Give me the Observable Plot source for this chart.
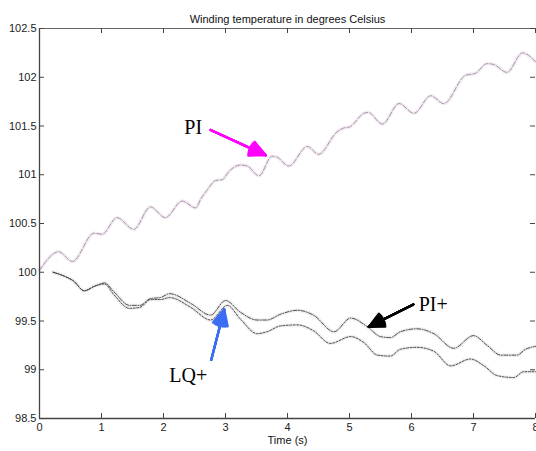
<!DOCTYPE html>
<html><head><meta charset="utf-8">
<script src="https://cdn.jsdelivr.net/npm/d3@7"></script>
<script src="https://cdn.jsdelivr.net/npm/@observablehq/plot@0.6"></script>
<style>body{margin:0;background:#fff}</style>
</head><body><div id="chart"></div>
<script>
const title = "Winding temperature in degrees Celsius";
const xLabel = "Time (s)";
const xDomain = [0, 8];
const yDomain = [98.5, 102.5];
const xTicks = [0, 1, 2, 3, 4, 5, 6, 7, 8];
const yTicks = [98.5, 99, 99.5, 100, 100.5, 101, 101.5, 102, 102.5];

// PI series
const piTime = [0.00,0.31,0.53,0.88,1.01,1.25,1.52,1.79,2.03,2.30,2.52,2.60,2.70,2.84,2.95,3.05,3.24,3.35,3.54,3.75,3.83,4.02,4.32,4.50,4.80,4.91,5.00,5.23,5.30,5.53,5.80,6.04,6.31,6.52,6.87,7.03,7.22,7.33,7.54,7.79,8.00];
const piTemp = [100.02,100.21,100.11,100.40,100.39,100.56,100.44,100.67,100.56,100.73,100.66,100.75,100.84,100.94,100.95,101.03,101.10,101.09,100.99,101.19,101.18,101.09,101.29,101.21,101.44,101.48,101.49,101.63,101.64,101.52,101.73,101.63,101.81,101.73,102.02,102.04,102.14,102.13,102.05,102.25,102.16];

// PI+ series
const pipTime = [0.22,0.40,0.55,0.72,0.90,1.05,1.20,1.45,1.62,1.79,1.95,2.10,2.44,2.76,3.00,3.24,3.51,3.67,3.89,4.16,4.42,4.75,5.02,5.29,5.50,5.66,5.82,6.09,6.36,6.68,7.00,7.22,7.44,7.70,7.84,8.00];
const pipTemp = [100.00,99.96,99.91,99.81,99.86,99.89,99.80,99.66,99.66,99.73,99.74,99.78,99.68,99.56,99.71,99.59,99.51,99.51,99.57,99.61,99.56,99.39,99.53,99.44,99.34,99.33,99.39,99.42,99.37,99.22,99.35,99.25,99.15,99.15,99.21,99.24];

// LQ+ series
const lqTime = [0.22,0.40,0.55,0.72,0.90,1.05,1.20,1.45,1.62,1.79,1.95,2.10,2.44,2.76,3.03,3.24,3.51,3.67,3.89,4.16,4.42,4.69,5.02,5.23,5.45,5.66,5.82,6.09,6.36,6.63,6.95,7.17,7.38,7.65,7.81,8.00];
const lqTemp = [100.00,99.96,99.91,99.81,99.86,99.88,99.77,99.63,99.64,99.72,99.72,99.74,99.64,99.51,99.66,99.52,99.37,99.39,99.45,99.46,99.40,99.27,99.34,99.28,99.15,99.14,99.21,99.23,99.19,99.04,99.11,99.04,98.94,98.92,98.98,98.98];

// annotations
const annLabels = ["PI", "PI+", "LQ+"];
const annTextX = [2.48, 6.35, 2.40];
const annTextY = [101.48, 99.67, 98.94];
const arrowX1 = [2.76, 6.03, 2.77];
const arrowY1 = [101.46, 99.67, 99.10];
const arrowX2 = [3.65, 5.31, 2.98];
const arrowY2 = [101.20, 99.44, 99.62];
const annColors = ["#ff00ff", "#000000", "#3a6cf4"];

const W = 536, H = 451;
const M = {top: 28, bottom: 33, left: 39, right: 1};
const innerW = W - M.left - M.right, innerH = H - M.top - M.bottom;

const toRows = (ts, vs) => ts.map((t, i) => ({t, v: vs[i]}));
const pi = toRows(piTime, piTemp);
const pip = toRows(pipTime, pipTemp);
const lq = toRows(lqTime, lqTemp);
const ann = annLabels.map((label, i) => ({
  label, tx: annTextX[i], ty: annTextY[i],
  x1: arrowX1[i], y1: arrowY1[i], x2: arrowX2[i], y2: arrowY2[i], color: annColors[i]
}));

const arrowMarks = [52, 40, 28, 16, 4].map(a => Plot.arrow(ann, {
  x1: "x1", y1: "y1", x2: "x2", y2: "y2", stroke: "color",
  strokeWidth: 2.2, headAngle: a, headLength: 12
}));

const chart = Plot.plot({
  width: W, height: H,
  marginTop: M.top, marginBottom: M.bottom, marginLeft: M.left, marginRight: M.right,
  style: {fontFamily: "'Liberation Sans', Arial, sans-serif", fontSize: "11px", color: "#222", background: "#fff"},
  x: {domain: xDomain, label: null},
  y: {domain: yDomain, label: null},
  marks: [
    // halos
    Plot.line(pi, {x: "t", y: "v", stroke: "#f3ecf3", strokeWidth: 3.5, curve: "monotone-x"}),
    Plot.line(pip, {x: "t", y: "v", stroke: "#eeeeee", strokeWidth: 3.5, curve: "monotone-x"}),
    Plot.line(lq, {x: "t", y: "v", stroke: "#eeeeee", strokeWidth: 3.5, curve: "monotone-x"}),
    // series
    Plot.line(pi, {x: "t", y: "v", stroke: "#a893a8", strokeWidth: 1, strokeDasharray: "5,2", curve: "monotone-x"}),
    Plot.line(pip, {x: "t", y: "v", stroke: "#3a3a3a", strokeWidth: 0.9, strokeDasharray: "4,1.5,1,1.5", curve: "monotone-x"}),
    Plot.line(lq, {x: "t", y: "v", stroke: "#3a3a3a", strokeWidth: 0.9, strokeDasharray: "2,1.5", curve: "monotone-x"}),
    // frame (left, top, bottom)
    Plot.ruleX([xDomain[0]], {stroke: "#444", strokeWidth: 1.3}),
    Plot.ruleY([yDomain[0]], {stroke: "#444", strokeWidth: 1.3}),
    Plot.ruleY([yDomain[1]], {stroke: "#666", strokeWidth: 1.2}),
    // inward ticks
    Plot.tickX(xTicks, {x: d => d, insetTop: innerH - 5, stroke: "#444"}),
    Plot.tickX(xTicks, {x: d => d, insetBottom: innerH - 5, stroke: "#444"}),
    Plot.tickY(yTicks, {y: d => d, insetRight: innerW - 5, stroke: "#444"}),
    Plot.tickY(yTicks, {y: d => d, insetLeft: innerW - 5, stroke: "#444"}),
    // axes labels
    Plot.axisX({ticks: xTicks, tickSize: 0, tickPadding: 5, tickFormat: d => String(d), label: null, fill: "#222"}),
    Plot.axisY({ticks: yTicks, tickSize: 0, tickPadding: 3, tickFormat: d => String(d), label: null, fill: "#222"}),
    Plot.text([title], {text: d => d, frameAnchor: "top", dy: -13, fontSize: 11, fill: "#111"}),
    Plot.text([xLabel], {text: d => d, frameAnchor: "bottom", dy: 25, fontSize: 11, fill: "#111"}),
    // annotations
    ...arrowMarks,
    Plot.text(ann, {x: "tx", y: "ty", text: "label", fontFamily: "'Liberation Serif', 'Times New Roman', serif", fontSize: 20, fill: "#000"})
  ]
});
document.getElementById("chart").appendChild(chart);
</script>
</body></html>
